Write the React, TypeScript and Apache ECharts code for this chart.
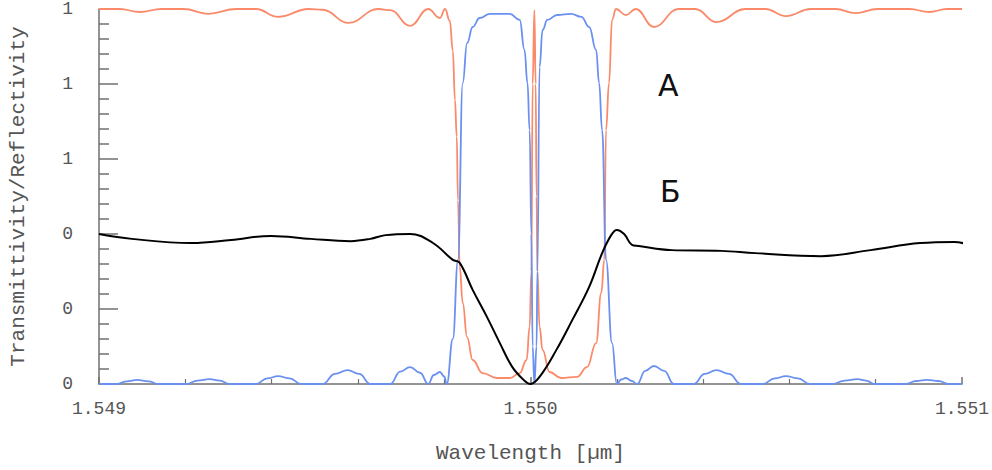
import React, { useEffect, useRef } from "react";
import * as echarts from "echarts";

const xTicks = [1.549, 1.55, 1.551];
const yTickValues = [0, 0.2, 0.4, 0.6, 0.8, 1.0];

const reflectivity: [number, number][] = [
  [1.549000, 1.0], [1.549048, 1.0], [1.549094, 0.992], [1.549145, 1.0], [1.549196, 1.0],
  [1.549253, 0.987], [1.549318, 1.0], [1.549364, 1.0], [1.549415, 0.979], [1.549486, 1.0],
  [1.549518, 0.998], [1.549578, 0.963], [1.549647, 1.0], [1.549675, 0.997], [1.549721, 0.955],
  [1.549763, 1.0], [1.549790, 0.976], [1.549802, 1.0], [1.549813, 0.968], [1.549820, 0.888],
  [1.549825, 0.757], [1.549829, 0.66], [1.549832, 0.49], [1.549836, 0.312], [1.549843, 0.216],
  [1.549853, 0.125], [1.549866, 0.064], [1.549889, 0.029], [1.549922, 0.016], [1.549952, 0.016],
  [1.549975, 0.029], [1.549991, 0.064], [1.549998, 0.152], [1.550002, 0.3], [1.550005, 0.8],
  [1.550009, 0.997], [1.550012, 0.8], [1.550014, 0.5], [1.550016, 0.3], [1.550021, 0.152],
  [1.550028, 0.091], [1.550044, 0.032], [1.550071, 0.016], [1.550108, 0.019], [1.550131, 0.045],
  [1.550152, 0.109], [1.550164, 0.243], [1.550171, 0.331], [1.550175, 0.677], [1.550182, 0.803],
  [1.550189, 0.971], [1.550198, 1.0], [1.550221, 0.984], [1.550244, 1.0], [1.550286, 0.952],
  [1.550343, 1.0], [1.550382, 1.0], [1.550431, 0.965], [1.550498, 1.0], [1.550544, 1.0],
  [1.550592, 0.981], [1.550650, 1.0], [1.550707, 1.0], [1.550753, 0.989], [1.550804, 1.0],
  [1.550878, 1.0], [1.550924, 0.992], [1.550965, 1.0], [1.551, 1.0],
];

const transmittivity: [number, number][] = [
  [1.549000, 0], [1.549041, 0], [1.549065, 0.007], [1.549088, 0.011], [1.549115, 0.007], [1.549138, 0],
  [1.549203, 0], [1.549228, 0.009], [1.549256, 0.013], [1.549280, 0.009], [1.549302, 0],
  [1.549364, 0], [1.549390, 0.015], [1.549415, 0.021], [1.549442, 0.015], [1.549468, 0],
  [1.549518, 0], [1.549547, 0.027], [1.549576, 0.037], [1.549603, 0.027], [1.549629, 0],
  [1.549675, 0], [1.549698, 0.033], [1.549721, 0.045], [1.549744, 0.03], [1.549763, 0],
  [1.549776, 0.024], [1.549790, 0.032], [1.549800, 0.02], [1.549806, 0],
  [1.549820, 0.12], [1.549832, 0.331], [1.549843, 0.803], [1.549853, 0.909], [1.549866, 0.952],
  [1.549882, 0.976], [1.549906, 0.987], [1.549952, 0.987], [1.549975, 0.971], [1.549986, 0.891],
  [1.549993, 0.803], [1.549998, 0.677], [1.550002, 0.4], [1.550005, 0.1], [1.550009, 0],
  [1.550014, 0.1], [1.550016, 0.3], [1.550021, 0.845], [1.550028, 0.944], [1.550039, 0.971],
  [1.550062, 0.984], [1.550094, 0.987], [1.550118, 0.979], [1.550136, 0.952], [1.550152, 0.891],
  [1.550159, 0.803], [1.550166, 0.677], [1.550175, 0.331], [1.550189, 0.109], [1.550200, 0],
  [1.550210, 0.012], [1.550221, 0.016], [1.550235, 0.008], [1.550247, 0],
  [1.550266, 0.035], [1.550286, 0.048], [1.550310, 0.035], [1.550332, 0],
  [1.550378, 0], [1.550404, 0.027], [1.550431, 0.037], [1.550460, 0.027], [1.550488, 0],
  [1.550539, 0], [1.550566, 0.015], [1.550592, 0.021], [1.550620, 0.015], [1.550647, 0],
  [1.550700, 0], [1.550728, 0.009], [1.550758, 0.013], [1.550778, 0.009], [1.550797, 0],
  [1.550869, 0], [1.550894, 0.008], [1.550919, 0.011], [1.550945, 0.008], [1.550970, 0],
  [1.551000, 0],
];

const groupDelay: [number, number][] = [
  [1.549000, 0.4], [1.549076, 0.387], [1.549214, 0.376], [1.549306, 0.384], [1.549399, 0.395],
  [1.549491, 0.387], [1.549583, 0.381], [1.549629, 0.387], [1.549664, 0.397], [1.549721, 0.4],
  [1.549774, 0.376], [1.549820, 0.331], [1.549836, 0.323], [1.549866, 0.251], [1.549899, 0.179],
  [1.549929, 0.109], [1.549958, 0.045], [1.549984, 0.011], [1.550000, 0], [1.550021, 0.019],
  [1.550060, 0.091], [1.550097, 0.171], [1.550136, 0.259], [1.550166, 0.349], [1.550187, 0.397],
  [1.550200, 0.411], [1.550217, 0.4], [1.550235, 0.371], [1.550251, 0.368], [1.550327, 0.357],
  [1.550442, 0.355], [1.550521, 0.349], [1.550673, 0.341], [1.550788, 0.357], [1.550903, 0.376],
  [1.550982, 0.379], [1.551028, 0.365],
];

const annotations = ["А", "Б"];

const FONT = "Liberation Mono";
const TEXT = "#555555";
const AXIS = "#707070";

export default function App() {
  const ref = useRef<HTMLDivElement>(null);
  useEffect(() => {
    if (!ref.current) return;
    const chart = echarts.init(ref.current, undefined, { renderer: "svg" });
    chart.setOption({
      animation: false,
      backgroundColor: "#ffffff",
      grid: { left: 97, right: 27, top: 9, bottom: 86 },
      xAxis: {
        type: "value",
        min: xTicks[0],
        max: xTicks[xTicks.length - 1],
        interval: 0.001,
        name: "Wavelength [µm]",
        nameLocation: "middle",
        nameGap: 59,
        nameTextStyle: { fontFamily: FONT, fontSize: 21, color: TEXT },
        axisLine: { show: true, lineStyle: { color: AXIS, width: 1.5 } },
        axisTick: { show: true, inside: true, length: 7, lineStyle: { color: AXIS, width: 1.5 } },
        minorTick: { show: true, splitNumber: 5, length: 5, lineStyle: { color: AXIS, width: 1.2 } },
        splitLine: { show: false },
        axisLabel: {
          fontFamily: FONT,
          fontSize: 18,
          color: TEXT,
          margin: 16,
          formatter: (v: number) => v.toFixed(3),
        },
      },
      yAxis: {
        type: "value",
        min: yTickValues[0],
        max: yTickValues[yTickValues.length - 1],
        interval: 0.2,
        name: "Transmittivity/Reflectivity",
        nameLocation: "middle",
        nameGap: 70,
        nameTextStyle: { fontFamily: FONT, fontSize: 21, color: TEXT },
        axisLine: { show: true, lineStyle: { color: AXIS, width: 1.5 } },
        axisTick: { show: true, inside: true, length: 19, lineStyle: { color: AXIS, width: 1.5 } },
        minorTick: { show: true, splitNumber: 5, length: 10, lineStyle: { color: AXIS, width: 1.5 } },
        splitLine: { show: false },
        axisLabel: {
          fontFamily: FONT,
          fontSize: 18,
          color: TEXT,
          margin: 26,
          formatter: (v: number) => String(Math.round(v)),
        },
      },
      series: [
        {
          type: "line",
          name: "Reflectivity",
          data: reflectivity,
          showSymbol: false,
          smooth: 0.45,
          smoothMonotone: "x",
          lineStyle: { color: "#fa8a6a", width: 1.8 },
        },
        {
          type: "line",
          name: "Transmittivity",
          data: transmittivity,
          showSymbol: false,
          smooth: 0.45,
          smoothMonotone: "x",
          lineStyle: { color: "#6a90f0", width: 1.8 },
        },
        {
          type: "line",
          name: "Delay",
          data: groupDelay,
          showSymbol: false,
          smooth: 0.4,
          clip: false,
          lineStyle: { color: "#000000", width: 2 },
        },
      ],
      graphic: [
        {
          type: "text",
          left: 658,
          top: 70,
          style: { text: annotations[0], font: "30px 'DejaVu Sans'", fill: "#111" },
        },
        {
          type: "text",
          left: 660,
          top: 176,
          style: { text: annotations[1], font: "30px 'DejaVu Sans'", fill: "#111" },
        },
      ],
    });
    return () => chart.dispose();
  }, []);
  return (
    <div
      ref={ref}
      style={{ position: "absolute", left: 0, top: 0, width: 992, height: 470 }}
    />
  );
}
